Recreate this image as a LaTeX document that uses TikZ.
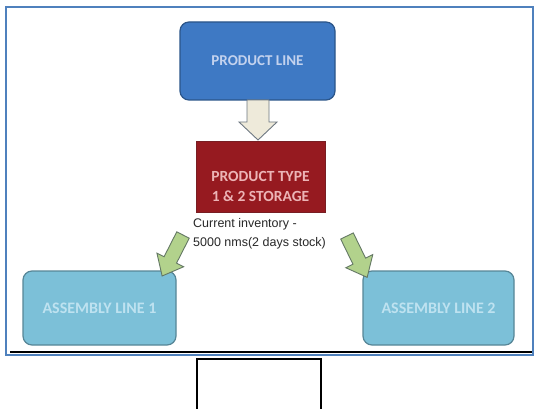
\documentclass[tikz,border=0pt]{standalone}
\usepackage{fontspec}
\newfontfamily\boxfont{Carlito}
\newfontfamily\notefont{Liberation Sans}
\begin{document}
\begin{tikzpicture}[x=1pt,y=-1pt,
  box/.style={draw=#1!70!black, line width=1.2pt, rounded corners=9pt, inner sep=0pt},
  boxtext/.style={align=center, inner sep=0pt},
  blockarrow/.style={line width=0.9pt, line join=miter}]
\useasboundingbox (0,0) rectangle (535,409);
\fill[white] (0,0) rectangle (535,409);
\definecolor{pl}{RGB}{62,121,196}
\definecolor{st}{RGB}{150,26,32}
\definecolor{al}{RGB}{124,192,216}
\definecolor{grn}{RGB}{178,210,140}
\definecolor{cream}{RGB}{238,234,218}
% frame
\draw[line width=2.5pt, draw={rgb,255:red,79;green,129;blue,189}] (6,7) rectangle (533,355);
\draw[line width=1.2pt, black] (10,352) -- (532,352);
% small rectangle below
\draw[line width=1.5pt, black] (197,409) -- (197,359) -- (321,359) -- (321,409);
% product line
\node[box=pl, fill=pl, minimum width=155pt, minimum height=78pt] (pline) at (257.5,61) {};
\node[boxtext, text={rgb,255:red,195;green,210;blue,238}, font=\boxfont\fontsize{15}{18}\selectfont\bfseries] (plt) at (pline.center) {PRODUCT LINE};
% storage
\node[draw={rgb,255:red,120;green,30;blue,35}, fill=st, minimum width=129pt, minimum height=71pt, inner sep=0pt] (stor) at (260.5,176.5) {};
\node[boxtext, text={rgb,255:red,236;green,180;blue,182}, font=\boxfont\fontsize{15.5}{20}\selectfont\bfseries] (stt) at (260.5,186) {PRODUCT TYPE\\1 \& 2 STORAGE};
% assembly lines
\node[box=al, fill=al, minimum width=153pt, minimum height=74pt] (al1) at (99.5,308) {};
\node[boxtext, text={rgb,255:red,190;green,226;blue,240}, font=\boxfont\fontsize{16}{18}\selectfont\bfseries] (al1t) at (al1.center) {ASSEMBLY LINE 1};
\node[box=al, fill=al, minimum width=151pt, minimum height=74pt] (al2) at (438.5,308) {};
\node[boxtext, text={rgb,255:red,190;green,226;blue,240}, font=\boxfont\fontsize{16}{18}\selectfont\bfseries] (al2t) at (al2.center) {ASSEMBLY LINE 2};
% note
\node[font=\notefont\fontsize{12.5}{19}\selectfont, align=left, anchor=north west, inner sep=0pt, text={rgb,255:red,40;green,40;blue,40}] (note) at (193,218) {Current inventory -\\5000 nms(2 days stock)};
% down arrow
\draw[blockarrow, fill=cream, draw={rgb,255:red,110;green,120;blue,130}]
  (247,100) -- (269,100) -- (269,122) -- (277,122) -- (258,140) -- (239,122) -- (247,122) -- cycle;
% diagonal arrows
\begin{scope}[shift={(183,235)}, rotate=-117]
  \draw[blockarrow, fill=grn, draw={rgb,255:red,100;green,120;blue,100}]
    (0,-7) -- (28,-7) -- (28,-15) -- (46,0) -- (28,15) -- (28,7) -- (0,7) -- cycle;
\end{scope}
\begin{scope}[shift={(347,236)}, rotate=-64]
  \draw[blockarrow, fill=grn, draw={rgb,255:red,100;green,120;blue,100}]
    (0,-7) -- (28,-7) -- (28,-15) -- (46,0) -- (28,15) -- (28,7) -- (0,7) -- cycle;
\end{scope}
\end{tikzpicture}
\end{document}
